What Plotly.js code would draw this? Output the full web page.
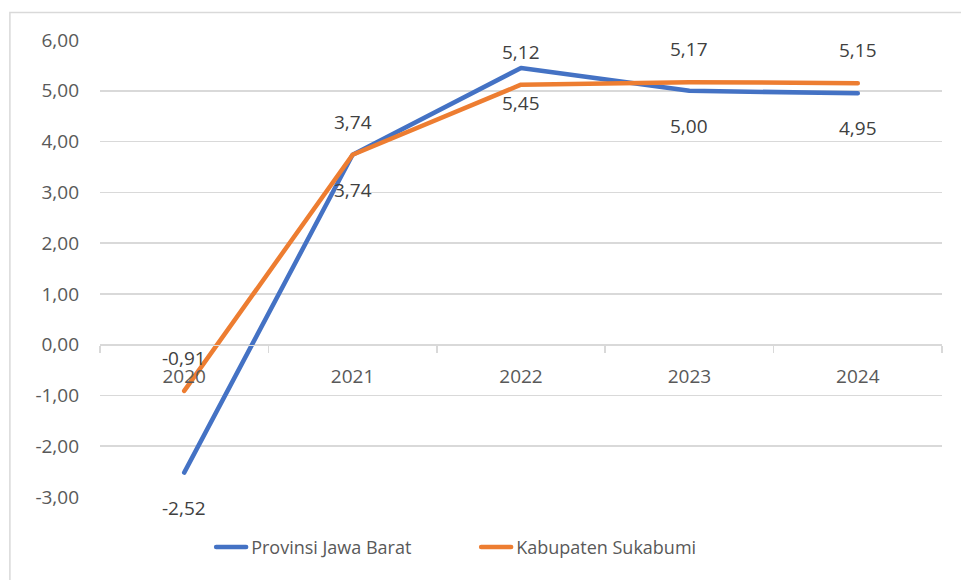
<!DOCTYPE html>
<html>
<head>
<meta charset="utf-8">
<script src="https://cdn.plot.ly/plotly-3.0.1.min.js"></script>
<style>
html,body{margin:0;padding:0;background:#fff;}
#chart{width:961px;height:580px;}
.scatterlayer path.js-line, .legendlines path{stroke-linecap:round;stroke-linejoin:round;}
</style>
</head>
<body>
<div id="chart"></div>
<script>
var years = ['2020', '2021', '2022', '2023', '2024'];
var jawaBarat = [-2.52, 3.74, 5.45, 5.00, 4.95];
var sukabumi = [-0.91, 3.74, 5.12, 5.17, 5.15];
var seriesNames = ['Provinsi Jawa Barat', 'Kabupaten Sukabumi'];
var yTicks = [-3, -2, -1, 0, 1, 2, 3, 4, 5, 6];

function fmt(v) { return v.toFixed(2).replace('.', ','); }

var FONT = 'Open Sans, Noto Sans, sans-serif';

var traces = [
  { x: years, y: jawaBarat, name: seriesNames[0], mode: 'lines', type: 'scatter',
    line: { color: '#4472c4', width: 4.5 }, hoverinfo: 'skip' },
  { x: years, y: sukabumi, name: seriesNames[1], mode: 'lines', type: 'scatter',
    line: { color: '#ed7d31', width: 4.5 }, hoverinfo: 'skip' }
];

var annotations = [];
years.forEach(function (yr, i) {
  annotations.push({ x: i, y: sukabumi[i], xref: 'x', yref: 'y', text: fmt(sukabumi[i]),
    showarrow: false, yshift: 33, font: { family: FONT, size: 19, color: '#404040' } });
  annotations.push({ x: i, y: jawaBarat[i], xref: 'x', yref: 'y', text: fmt(jawaBarat[i]),
    showarrow: false, yshift: -35, font: { family: FONT, size: 19, color: '#404040' } });
});

var layout = {
  width: 961, height: 580,
  margin: { l: 100, r: 19, t: 40, b: 83 },
  paper_bgcolor: '#ffffff', plot_bgcolor: '#ffffff',
  font: { family: FONT, size: 19, color: '#595959' },
  showlegend: true,
  legend: { orientation: 'h', x: 0.132, y: -0.11, xanchor: 'left', yanchor: 'middle',
    entrywidth: 220, entrywidthmode: 'pixels',
    font: { family: FONT, size: 18, color: '#595959' } },
  xaxis: {
    type: 'category', range: [-0.5, 4.5], anchor: 'free', position: 1 / 3,
    showline: true, linecolor: '#d9d9d9', linewidth: 1.5,
    ticks: 'outside', ticklen: 7, tickcolor: '#d9d9d9', tickwidth: 1.5, tickson: 'boundaries',
    showgrid: false, zeroline: false, ticklabelstandoff: 14,
    tickfont: { family: FONT, size: 19, color: '#595959' }
  },
  yaxis: {
    range: [-3, 6], tickmode: 'array', tickvals: yTicks, ticktext: yTicks.map(fmt),
    showgrid: true, gridcolor: '#d9d9d9', gridwidth: 1.5,
    zeroline: true, zerolinecolor: '#d9d9d9', zerolinewidth: 1.5,
    showline: false, ticks: '', ticklabelstandoff: 20,
    tickfont: { family: FONT, size: 19, color: '#595959' }
  },
  annotations: annotations,
  shapes: [{ type: 'rect', xref: 'paper', yref: 'paper',
    x0: -0.107, x1: 1.1, y0: -0.2, y1: 1.06,
    line: { color: '#d9d9d9', width: 1.5 }, fillcolor: 'rgba(0,0,0,0)', layer: 'below' }]
};

Plotly.newPlot('chart', traces, layout, { staticPlot: true, displayModeBar: false });
</script>
</body>
</html>
